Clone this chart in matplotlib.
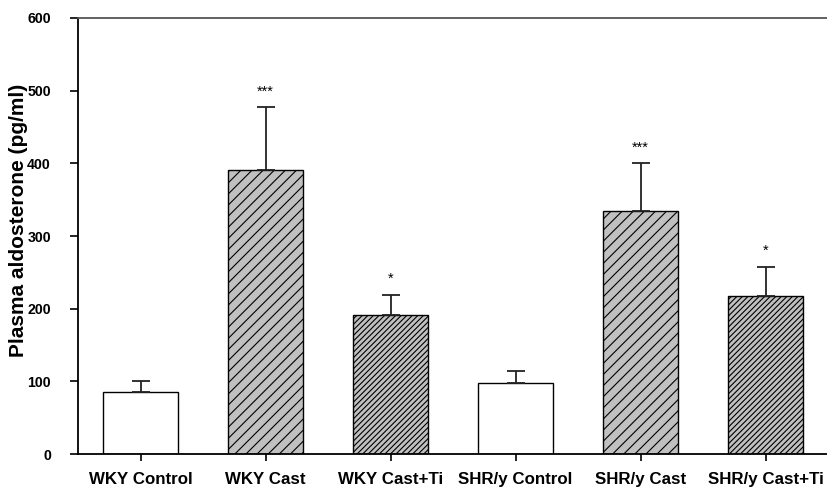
import matplotlib
matplotlib.use("Agg")
import matplotlib.pyplot as plt
import numpy as np

categories = ["WKY Control", "WKY Cast", "WKY Cast+Ti", "SHR/y Control", "SHR/y Cast", "SHR/y Cast+Ti"]
means = [85, 391, 191, 98, 335, 217]
errors = [16, 86, 28, 16, 65, 41]
stars = ["", "***", "*", "", "***", "*"]
colors = ["white", "#c0c0c0", "#c0c0c0", "white", "#c0c0c0", "#c0c0c0"]
hatches = ["", "///", "//////", "", "///", "//////"]

plt.rcParams['font.family'] = ['Liberation Sans', 'DejaVu Sans']
plt.rcParams['font.weight'] = 'bold'
plt.rcParams['hatch.linewidth'] = 0.8

fig = plt.figure(figsize=(8.27, 4.92), dpi=100)
ax = fig.add_axes([78/827, 38/492, 750/827, 436/492])

x = np.arange(len(categories))
for i in range(len(categories)):
    ax.bar(x[i], means[i], width=0.6, color=colors[i], edgecolor="black",
           linewidth=1.0, hatch=hatches[i], zorder=2)
    ax.errorbar(x[i], means[i], yerr=[[0], [errors[i]]], fmt="none",
                ecolor="#222222", elinewidth=1.3, capsize=6.5, capthick=1.3, zorder=3)
    if stars[i]:
        ax.text(x[i], means[i] + errors[i] + 12, stars[i], ha="center",
                va="bottom", fontsize=10.5, fontweight="normal")

ax.set_xlim(-0.5, 5.5)
ax.set_ylim(0, 600)
ax.set_yticks([0, 100, 200, 300, 400, 500, 600])
ax.set_xticks(x)
ax.set_xticklabels(categories, fontsize=12.2, fontweight="bold")
ax.tick_params(axis="y", labelsize=10.2, direction="out", length=6, width=1.2, pad=13.5)
ax.tick_params(axis="x", direction="out", length=5, width=1.2, pad=8)
for lab in ax.get_yticklabels():
    lab.set_fontweight("bold")

ax.spines["right"].set_visible(False)
ax.spines["top"].set_color("#555555")
ax.spines["top"].set_linewidth(1.3)
ax.spines["left"].set_linewidth(1.3)
ax.spines["bottom"].set_linewidth(1.3)

ax.set_ylabel("Plasma aldosterone (pg/ml)", fontsize=15, fontweight="bold")
ax.yaxis.set_label_coords(-50/750, 0.535)

fig.savefig("out.png", dpi=100)
